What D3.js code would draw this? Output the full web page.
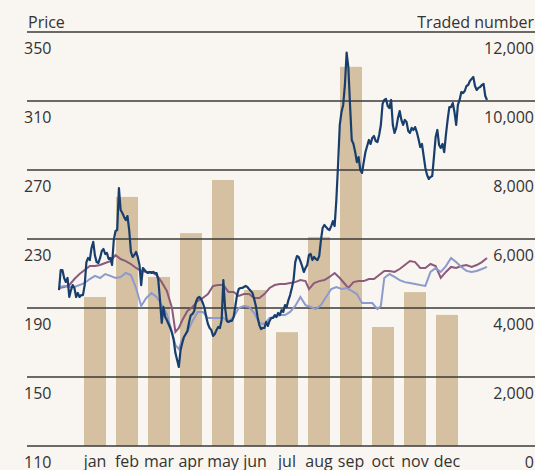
<!DOCTYPE html>
<html>
<head>
<meta charset="utf-8">
<script src="https://cdn.jsdelivr.net/npm/d3@7"></script>
<style>
  html, body { margin: 0; padding: 0; background: #f9f5f0; }
  svg text { font-family: "Open Sans", "Noto Sans", sans-serif; font-size: 16px; fill: #333; }
</style>
</head>
<body>
<div class="container"></div>
<script>
const months = ['jan', 'feb', 'mar', 'apr', 'may', 'jun', 'jul', 'aug', 'sep', 'oct', 'nov', 'dec']
const traded = [4320, 7220, 4900, 6170, 7710, 4520, 3300, 6060, 10990, 3450, 4460, 3800]

const priceTicks = [110, 150, 190, 230, 270, 310, 350]
const tradedTicks = [0, 2000, 4000, 6000, 8000, 10000, 12000]

// closing price per trading day
const mainPrice = [
  200.4, 212.0, 212.0, 207.4, 205.1, 207.4, 196.4, 200.4, 203.3, 201.6,
  196.4, 198.7, 196.4, 197.5, 197.5, 203.3, 216.6, 219.0, 217.8, 224.8,
  228.3, 220.4, 216.6, 216.1, 219.0, 223.0, 224.2, 221.3, 221.9, 218.4,
  219.0, 215.0, 229.4, 234.6, 235.2, 259.5, 246.8, 245.1, 242.8, 241.0,
  243.3, 235.2, 222.5, 219.6, 220.7, 222.5, 219.6, 215.0, 203.3, 213.2,
  212.0, 210.9, 210.3, 210.9, 210.3, 210.9, 210.3, 210.3, 206.2, 194.6,
  181.3, 190.6, 184.8, 183.0, 180.7, 178.4, 175.5, 171.4, 163.9, 159.9,
  155.8, 165.6, 169.7, 173.2, 174.9, 176.7, 181.9, 185.9, 186.5, 188.3,
  193.5, 195.8, 196.4, 195.2, 192.9, 190.0, 184.8, 180.7, 178.4, 177.2,
  173.8, 174.9, 177.2, 179.0, 178.4, 183.0, 206.2, 190.3, 182.5, 181.9,
  182.5, 182.5, 184.8, 191.1, 197.5, 201.0, 201.6, 201.6, 202.2, 202.8,
  202.2, 201.0, 199.9, 198.7, 195.2, 191.1, 184.8, 180.1, 177.8, 178.4,
  178.4, 181.9, 179.6, 182.5, 184.2, 184.2, 185.9, 184.8, 187.1, 185.9,
  188.8, 187.7, 191.7, 190.6, 194.6, 197.5, 201.6, 206.2, 216.6, 220.1,
  219.6, 217.2, 214.3, 210.9, 213.2, 215.0, 220.7, 221.3, 217.8, 219.6,
  218.4, 217.8, 220.1, 229.4, 236.4, 238.1, 236.9, 235.8, 235.2, 237.5,
  240.4, 237.5, 252.6, 272.9, 296.1, 303.6, 307.7, 319.3, 338.0, 329.7,
  307.7, 287.4, 285.1, 280.4, 274.6, 277.5, 270.0, 268.3, 274.6, 280.4,
  283.9, 287.4, 285.1, 288.6, 289.7, 286.8, 286.2, 290.3, 296.1, 308.3,
  310.6, 311.2, 307.1, 305.9, 310.6, 296.1, 291.5, 294.4, 300.2, 304.2,
  299.0, 296.1, 299.0, 297.8, 292.6, 291.5, 294.4, 293.2, 294.9, 292.0,
  288.0, 283.3, 285.1, 278.1, 271.2, 267.1, 264.8, 266.0, 266.5, 277.5,
  289.1, 293.2, 284.5, 282.8, 285.1, 280.4, 290.3, 299.0, 306.5, 306.5,
  308.8, 303.6, 296.1, 307.7, 310.6, 315.2, 314.6, 315.8, 318.7, 319.3,
  321.6, 322.8, 323.9, 318.7, 316.4, 317.6, 318.1, 319.3, 319.9, 312.9,
  310.6
]

// [trading day, price]
const indexA = [
  [0, 201.6], [3, 202.2], [6, 203.3], [9, 206.8], [12, 209.7], [15, 212.0], [18, 214.3], [21, 214.3],
  [24, 214.9], [27, 216.1], [30, 217.2], [33, 220.7], [36, 218.4], [39, 217.2], [42, 215.5], [45, 213.2],
  [48, 211.5], [51, 210.9], [54, 210.9], [57, 209.1], [60, 205.0], [63, 199.9], [66, 190.0], [68, 176.1],
  [70, 178.4], [72, 182.9], [75, 188.3], [78, 190.6], [81, 194.1], [84, 195.8], [87, 198.1], [90, 202.8],
  [93, 203.3], [96, 203.3], [99, 199.3], [102, 199.3], [105, 197.0], [108, 198.1], [111, 198.1], [114, 195.8],
  [117, 195.8], [120, 198.1], [123, 201.6], [126, 203.3], [129, 203.9], [132, 203.9], [135, 204.5], [138, 205.0],
  [141, 206.2], [144, 205.6], [146, 201.0], [149, 204.5], [152, 205.6], [155, 206.2], [158, 208.0], [161, 210.3],
  [164, 207.4], [167, 203.9], [169, 201.6], [172, 205.0], [175, 205.6], [178, 205.6], [181, 206.8], [184, 206.8],
  [187, 209.1], [190, 211.5], [193, 211.5], [196, 210.9], [199, 212.6], [202, 214.9], [205, 217.2], [208, 216.6],
  [211, 213.2], [214, 213.2], [217, 215.5], [220, 214.3], [223, 207.4], [226, 210.9], [229, 213.8], [232, 213.2],
  [235, 214.3], [238, 214.9], [241, 213.8], [244, 214.9], [247, 216.6], [250, 219.0]
]

const indexB = [
  [0, 202.2], [3, 202.8], [6, 202.2], [9, 202.2], [12, 203.3], [15, 204.5], [18, 206.8], [21, 208.6],
  [24, 207.4], [27, 209.7], [30, 208.6], [33, 207.4], [36, 208.0], [39, 210.3], [42, 209.1], [45, 201.6],
  [48, 191.2], [51, 195.8], [54, 198.7], [57, 196.4], [60, 191.7], [63, 186.5], [66, 176.1], [68, 168.5],
  [70, 166.2], [72, 172.0], [75, 176.1], [78, 182.5], [81, 187.7], [84, 187.7], [87, 184.2], [90, 184.2],
  [93, 184.2], [96, 184.2], [99, 182.5], [102, 184.8], [105, 190.0], [108, 191.2], [111, 190.6], [114, 187.1],
  [117, 181.3], [120, 180.7], [123, 184.2], [126, 184.8], [129, 185.9], [132, 185.9], [135, 187.7], [138, 191.2],
  [141, 196.4], [144, 191.7], [147, 190.6], [150, 189.4], [153, 191.7], [156, 196.4], [159, 201.0], [162, 202.2],
  [165, 201.0], [168, 201.6], [171, 199.9], [174, 198.1], [177, 192.9], [180, 192.9], [183, 192.9], [186, 189.4],
  [188, 191.2], [190, 207.4], [193, 209.7], [196, 208.0], [199, 206.2], [202, 205.0], [205, 204.5], [208, 203.9],
  [211, 203.3], [214, 202.8], [217, 210.9], [220, 213.2], [223, 210.9], [226, 214.3], [229, 219.0], [232, 216.6],
  [235, 213.8], [238, 211.5], [241, 210.9], [244, 211.5], [247, 212.6], [250, 213.8]
]

const width = 535
const height = 470

const svg = d3.select('.container')
  .append('svg')
    .attr('width', width)
    .attr('height', height)

const yPrice = d3.scaleLinear()
  .domain([110, 350])
  .range([446, 32])

const yTraded = d3.scaleLinear()
  .domain([0, 12000])
  .range([446, 32])

const xMonth = d3.scaleBand()
  .domain(months)
  .range([79, 463])
  .paddingInner(0.3125)
  .paddingOuter(0.15625)

const xDay = d3.scaleLinear()
  .domain([0, 250])
  .range([59, 487])

// bars
svg.selectAll('rect.bar')
  .data(traded)
  .enter()
  .append('rect')
    .attr('class', 'bar')
    .attr('x', (d, i) => xMonth(months[i]))
    .attr('width', xMonth.bandwidth())
    .attr('y', d => yTraded(d))
    .attr('height', d => yTraded(0) - yTraded(d))
    .attr('fill', '#d5c1a1')

// grid
svg.selectAll('line.grid')
  .data(priceTicks)
  .enter()
  .append('line')
    .attr('class', 'grid')
    .attr('x1', 27)
    .attr('x2', width)
    .attr('y1', d => yPrice(d))
    .attr('y2', d => yPrice(d))
    .attr('stroke', '#3a3a3a')
    .attr('stroke-width', 1.3)

svg.selectAll('text.left')
  .data(priceTicks)
  .enter()
  .append('text')
    .attr('class', 'left')
    .attr('x', 24)
    .attr('y', d => yPrice(d) + 22)
    .text(d => d)

svg.selectAll('text.right')
  .data(tradedTicks)
  .enter()
  .append('text')
    .attr('class', 'right')
    .attr('x', 534)
    .attr('y', d => yTraded(d) + 22)
    .attr('text-anchor', 'end')
    .text(d => d3.format(',')(d))

svg.selectAll('text.month')
  .data(months)
  .enter()
  .append('text')
    .attr('class', 'month')
    .attr('x', d => xMonth(d) + xMonth.bandwidth() / 2)
    .attr('y', 467)
    .attr('text-anchor', 'middle')
    .text(d => d)

svg.append('text')
  .attr('x', 28)
  .attr('y', 28)
  .text('Price')

svg.append('text')
  .attr('x', 534)
  .attr('y', 28)
  .attr('text-anchor', 'end')
  .text('Traded number')

// lines
const pairLine = d3.line()
  .x(d => xDay(d[0]))
  .y(d => yPrice(d[1]))

svg.append('path')
  .datum(indexA)
  .attr('d', pairLine)
  .attr('fill', 'none')
  .attr('stroke', '#8c5a7b')
  .attr('stroke-width', 2)

svg.append('path')
  .datum(indexB)
  .attr('d', pairLine)
  .attr('fill', 'none')
  .attr('stroke', '#8d9acc')
  .attr('stroke-width', 2)

const mainLine = d3.line()
  .x((d, i) => xDay(i))
  .y(d => yPrice(d))

svg.append('path')
  .datum(mainPrice)
  .attr('d', mainLine)
  .attr('fill', 'none')
  .attr('stroke', '#173e6d')
  .attr('stroke-width', 2.2)
  .attr('stroke-linejoin', 'round')
</script>
</body>
</html>
